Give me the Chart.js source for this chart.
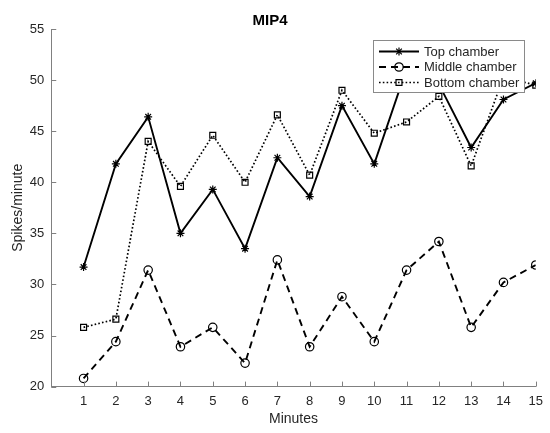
<!DOCTYPE html>
<html>
<head>
<meta charset="utf-8">
<script src="https://cdn.jsdelivr.net/npm/chart.js@4.4.1/dist/chart.umd.min.js"></script>
<style>
  html, body { margin: 0; padding: 0; background: #fff; }
  #wrap { width: 550px; height: 433px; }
</style>
</head>
<body>
<div id="wrap"><canvas id="c" width="550" height="433"></canvas></div>
<script>
const minutes = [1, 2, 3, 4, 5, 6, 7, 8, 9, 10, 11, 12, 13, 14, 15];
const topChamber = [31.7, 41.8, 46.4, 35.0, 39.3, 33.5, 42.4, 38.6, 47.5, 41.8, 51.1, 49.6, 43.4, 48.1, 49.7];
const middleChamber = [20.8, 24.4, 31.4, 23.9, 25.8, 22.3, 32.4, 23.9, 28.8, 24.4, 31.4, 34.2, 25.8, 30.2, 31.9];
const bottomChamber = [25.8, 26.6, 44.0, 39.6, 44.6, 40.0, 46.6, 40.7, 49.0, 44.8, 45.9, 48.4, 41.6, 50.3, 49.5];
const xTicks = [1, 2, 3, 4, 5, 6, 7, 8, 9, 10, 11, 12, 13, 14, 15];
const yTicks = [20, 25, 30, 35, 40, 45, 50, 55];
const seriesNames = ['Top chamber', 'Middle chamber', 'Bottom chamber'];

const FONT = "'Liberation Sans', Arial, Helvetica, sans-serif";
const TEXT = '#262626';
const AXIS = '#808080';

function pts(arr) { return minutes.map((m, i) => ({ x: m, y: arr[i] })); }

const styles = [
  { dash: [], width: 1.9, point: 'star', radius: 4 },
  { dash: [7, 5], width: 1.9, point: 'circle', radius: 4.2 },
  { dash: [1.6, 2.2], width: 1.7, point: 'rect', radius: 4.2 }
];

const datasets = [topChamber, middleChamber, bottomChamber].map((arr, i) => ({
  label: seriesNames[i],
  data: pts(arr),
  borderColor: '#000',
  backgroundColor: 'rgba(0,0,0,0)',
  borderWidth: styles[i].width,
  borderDash: styles[i].dash,
  pointStyle: styles[i].point,
  pointRadius: styles[i].radius,
  pointBorderColor: '#000',
  pointBackgroundColor: 'rgba(0,0,0,0)',
  pointBorderWidth: 1.2,
  pointHoverRadius: styles[i].radius,
  tension: 0,
  fill: false
}));

const inwardTicks = {
  id: 'inwardTicks',
  afterDatasetsDraw(chart) {
    const ctx = chart.ctx;
    const xs = chart.scales.x, ys = chart.scales.y;
    const a = chart.chartArea;
    ctx.save();
    ctx.strokeStyle = AXIS;
    ctx.lineWidth = 1;
    ctx.beginPath();
    xTicks.forEach(v => {
      const px = Math.round(xs.getPixelForValue(v)) + 0.5;
      ctx.moveTo(px, a.bottom);
      ctx.lineTo(px, a.bottom - 5);
    });
    yTicks.forEach(v => {
      const py = Math.round(ys.getPixelForValue(v)) + 0.5;
      ctx.moveTo(a.left, py);
      ctx.lineTo(a.left + 5, py);
    });
    ctx.stroke();
    ctx.restore();
  }
};

const boxLegend = {
  id: 'boxLegend',
  afterDraw(chart) {
    const ctx = chart.ctx;
    const x0 = 373, y0 = 40, w = 151, h = 52;
    ctx.save();
    ctx.fillStyle = '#fff';
    ctx.fillRect(x0, y0, w, h);
    ctx.strokeStyle = '#8a8a8a';
    ctx.lineWidth = 1;
    ctx.strokeRect(x0 + 0.5, y0 + 0.5, w, h);
    const rows = [51.5, 67, 82.5];
    chart.data.datasets.forEach((ds, i) => {
      const y = rows[i];
      ctx.strokeStyle = '#000';
      ctx.lineWidth = ds.borderWidth;
      ctx.setLineDash(ds.borderDash);
      ctx.beginPath();
      ctx.moveTo(379, y);
      ctx.lineTo(419, y);
      ctx.stroke();
      ctx.setLineDash([]);
      ctx.lineWidth = ds.pointBorderWidth;
      ctx.strokeStyle = '#000';
      ctx.fillStyle = 'rgba(0,0,0,0)';
      Chart.helpers.drawPoint(ctx, { pointStyle: ds.pointStyle, radius: ds.pointRadius, rotation: 0, borderWidth: ds.pointBorderWidth }, 399, y);
      ctx.fillStyle = TEXT;
      ctx.font = '13px ' + FONT;
      ctx.textBaseline = 'middle';
      ctx.textAlign = 'left';
      ctx.fillText(ds.label, 424, y + 0.5);
    });
    ctx.restore();
  }
};

new Chart(document.getElementById('c'), {
  type: 'line',
  data: { datasets },
  options: {
    responsive: false,
    animation: false,
    events: [],
    layout: { padding: { left: 4, right: 14, top: 0, bottom: 5 } },
    plugins: {
      legend: { display: false },
      tooltip: { enabled: false },
      title: {
        display: true,
        text: 'MIP4',
        color: '#000',
        font: { family: FONT, size: 15, weight: 'bold' },
        padding: { top: 12, bottom: -1 }
      }
    },
    scales: {
      x: {
        type: 'linear',
        min: 0,
        max: 15,
        afterBuildTicks(scale) { scale.ticks = xTicks.map(v => ({ value: v })); },
        grid: { display: true, drawOnChartArea: false, drawTicks: false },
        border: { display: true, color: AXIS, width: 1 },
        ticks: {
          color: TEXT,
          font: { family: FONT, size: 13 },
          padding: 7,
          maxRotation: 0,
          autoSkip: false,
          callback: (v) => String(v)
        },
        title: {
          display: true,
          text: 'Minutes',
          color: TEXT,
          font: { family: FONT, size: 14 },
          padding: { top: -5, bottom: 0 }
        }
      },
      y: {
        type: 'linear',
        min: 20,
        max: 55,
        afterBuildTicks(scale) { scale.ticks = yTicks.map(v => ({ value: v })); },
        grid: { display: true, drawOnChartArea: false, drawTicks: false },
        border: { display: true, color: AXIS, width: 1 },
        ticks: {
          color: TEXT,
          font: { family: FONT, size: 13 },
          padding: 7,
          callback: (v) => String(v)
        },
        title: {
          display: true,
          text: 'Spikes/minute',
          color: TEXT,
          font: { family: FONT, size: 14 },
          padding: { top: 6, bottom: -4 }
        }
      }
    }
  },
  plugins: [inwardTicks, boxLegend]
});
</script>
</body>
</html>
